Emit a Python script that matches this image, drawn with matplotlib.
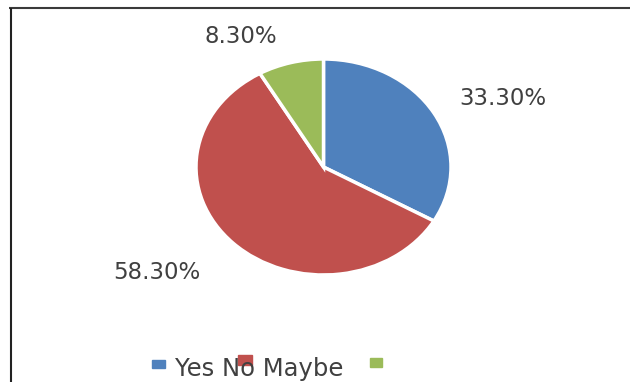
import matplotlib.pyplot as plt
from matplotlib.patches import Rectangle
from matplotlib.lines import Line2D

categories = ['Yes', 'No', 'Maybe']
values = [33.3, 58.3, 8.3]
colors = ['#4F81BD', '#C0504D', '#9BBB59']

W, H = 630, 382
fig = plt.figure(figsize=(W / 100, H / 100), dpi=100)

# pie axes (picture is stretched sideways, so the pie is an ellipse)
ax = fig.add_axes([196 / W, 107 / H, 255 / W, 216 / H])
ax.pie(values, colors=colors, startangle=90, counterclock=False,
       wedgeprops=dict(edgecolor='white', linewidth=2.5))
ax.set_aspect('auto')
ax.set_xlim(-1, 1)
ax.set_ylim(-1, 1)

# percentage labels
label_pos = [(1.41, 0.63), (-1.31, -0.98), (-0.65, 1.21)]
for v, (lx, ly) in zip(values, label_pos):
    ax.text(lx, ly, f'{v:.2f}%', ha='center', va='center',
            fontsize=16.5, color='#404040')

# garbled legend: squares and one line of text
squares = [(152, 360, 13, 8), (238, 355, 14, 10), (370, 358, 12, 9)]
for c, (x, y, w, h) in zip(colors, squares):
    fig.patches.append(Rectangle((x / W, (H - y - h) / H), w / W, h / H,
                                 transform=fig.transFigure, color=c))
fig.text(175 / W, (H - 369) / H, ' '.join(categories), ha='left', va='center',
         fontsize=17.5, color='#404040')

# frame lines
fig.add_artist(Line2D([9 / W, 1], [(H - 8) / H] * 2, color='#3a3a3a', lw=1.5,
                      solid_capstyle='butt'))
fig.add_artist(Line2D([11 / W] * 2, [0, (H - 8) / H], color='#222222', lw=1.5,
                      solid_capstyle='butt'))

fig.savefig('out.png', dpi=100)
